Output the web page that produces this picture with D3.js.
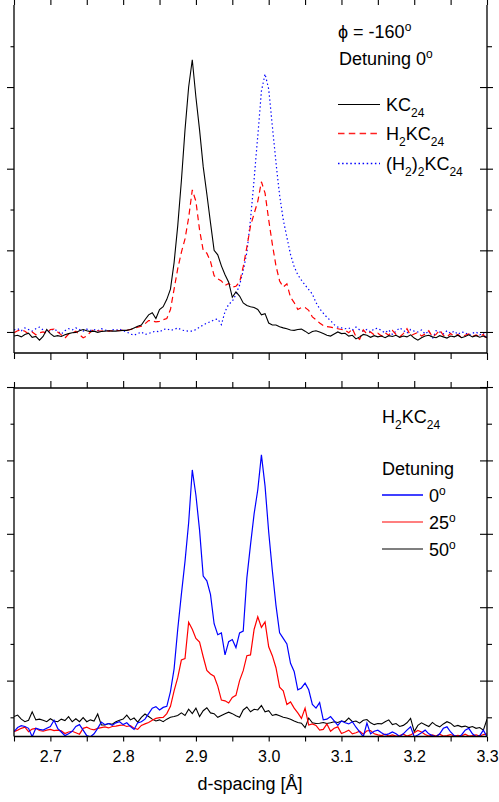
<!DOCTYPE html>
<html>
<head>
<meta charset="utf-8">
<script src="https://cdn.jsdelivr.net/npm/d3@7"></script>
<style>
  body { margin: 0; background: #fff; }
  svg { display: block; }
  text { font-family: "Liberation Sans", Arial, sans-serif; fill: #000; }
  .tick line { stroke: #000; stroke-width: 1.1; }
</style>
</head>
<body>
<svg id="chart" width="499" height="802"></svg>
<script>
// -------------- DATA ----------------- //

// d-spacing grid [Å]
const dSpacing = [
  2.650, 2.655, 2.660, 2.665, 2.670, 2.675, 2.680, 2.685, 2.690, 2.695,
  2.700, 2.705, 2.710, 2.715, 2.720, 2.725, 2.730, 2.735, 2.740, 2.745,
  2.750, 2.755, 2.760, 2.765, 2.770, 2.775, 2.780, 2.785, 2.790, 2.795,
  2.800, 2.805, 2.810, 2.815, 2.820, 2.825, 2.830, 2.835, 2.840, 2.845,
  2.850, 2.855, 2.860, 2.865, 2.870, 2.875, 2.880, 2.885, 2.890, 2.895,
  2.900, 2.905, 2.910, 2.915, 2.920, 2.925, 2.930, 2.935, 2.940, 2.945,
  2.950, 2.955, 2.960, 2.965, 2.970, 2.975, 2.980, 2.985, 2.990, 2.995,
  3.000, 3.005, 3.010, 3.015, 3.020, 3.025, 3.030, 3.035, 3.040, 3.045,
  3.050, 3.055, 3.060, 3.065, 3.070, 3.075, 3.080, 3.085, 3.090, 3.095,
  3.100, 3.105, 3.110, 3.115, 3.120, 3.125, 3.130, 3.135, 3.140, 3.145,
  3.150, 3.155, 3.160, 3.165, 3.170, 3.175, 3.180, 3.185, 3.190, 3.195,
  3.200, 3.205, 3.210, 3.215, 3.220, 3.225, 3.230, 3.235, 3.240, 3.245,
  3.250, 3.255, 3.260, 3.265, 3.270, 3.275, 3.280, 3.285, 3.290, 3.295,
  3.300
];

// top panel, phi = -160, detuning 0 (arb. units)
const kc24 = [
  -0.10, -0.08, -0.12, -0.06, -0.03, -0.13, -0.11, -0.20, -0.11, 0.06,
  -0.04, -0.11, -0.09, -0.11, -0.07, -0.04, -0.02, -0.01, 0.03, 0.06,
  0.03, 0.01, 0.02, -0.01, 0.01, 0.02, 0.03, 0.02, 0.02, 0.03,
  0.04, 0.04, 0.06, 0.10, 0.14, 0.17, 0.30, 0.42, 0.47, 0.33,
  0.55, 0.62, 0.80, 1.05, 1.70, 2.60, 3.70, 4.95, 6.00, 6.67,
  5.75, 4.95, 4.05, 3.38, 2.68, 2.00, 1.89, 1.62, 1.40, 1.22,
  0.85, 0.98, 0.88, 0.71, 0.65, 0.62, 0.60, 0.55, 0.42, 0.45,
  0.22, 0.17, 0.17, 0.13, 0.10, 0.08, 0.05, 0.04, 0.06, 0.07,
  0.02, -0.04, 0.01, 0.03, 0.00, -0.04, -0.08, -0.10, -0.05, 0.00,
  -0.04, -0.03, -0.10, -0.08, -0.17, -0.12, -0.06, -0.08, -0.13, -0.09,
  -0.12, -0.10, -0.14, -0.09, -0.11, -0.08, -0.13, -0.10, -0.12, -0.07,
  -0.15, -0.20, -0.14, -0.10, -0.08, -0.12, -0.14, -0.09, -0.12, -0.15,
  -0.10, -0.12, -0.08, -0.14, -0.11, -0.07, -0.12, -0.09, -0.13, -0.10,
  -0.14
];
const h2kc24 = [
  -0.02, 0.03, 0.05, 0.02, -0.05, 0.00, -0.07, -0.02, 0.00, -0.03,
  0.06, 0.07, 0.00, -0.07, -0.15, -0.05, -0.03, 0.02, -0.07, -0.14,
  -0.10, 0.00, 0.06, 0.03, 0.02, 0.04, 0.02, 0.03, 0.04, 0.03,
  0.05, 0.04, 0.06, 0.08, 0.12, 0.14, 0.20, 0.28, 0.27, 0.25,
  0.26, 0.30, 0.33, 0.55, 1.05, 1.55, 1.95, 2.28, 2.80, 3.48,
  3.20, 2.50, 2.00, 1.93, 1.73, 1.38, 1.30, 1.25, 1.14, 1.19,
  1.10, 1.12, 1.22, 1.60, 2.08, 2.60, 2.90, 3.20, 3.68, 3.40,
  2.75, 2.15, 1.62, 1.25, 1.10, 1.18, 0.85, 0.72, 0.55, 0.60,
  0.60, 0.53, 0.37, 0.30, 0.22, 0.16, 0.13, 0.12, 0.10, 0.08,
  0.06, 0.05, -0.02, 0.08, -0.12, -0.18, 0.05, -0.05, 0.00, -0.07,
  -0.03, -0.10, -0.02, -0.08, 0.04, -0.06, -0.12, -0.04, 0.08, -0.09,
  -0.05, -0.01, -0.10, -0.05, 0.03, -0.12, -0.06, 0.05, -0.08, -0.12,
  -0.04, -0.10, -0.06, -0.14, -0.08, -0.05, -0.11, -0.07, -0.12, -0.06,
  -0.20
];
const h22kc24 = [
  0.05, 0.08, 0.03, 0.10, 0.06, 0.02, 0.08, 0.12, 0.05, -0.02,
  0.04, 0.07, 0.02, -0.05, 0.03, 0.08, 0.05, 0.10, 0.06, 0.02,
  0.07, 0.04, 0.06, 0.03, 0.08, 0.05, 0.02, 0.06, 0.04, 0.07,
  0.03, 0.00, -0.05, -0.08, -0.04, 0.00, -0.06, -0.04, 0.00, 0.02,
  0.00, 0.06, 0.08, 0.04, 0.06, 0.10, 0.05, 0.03, 0.02, 0.02,
  0.06, 0.12, 0.17, 0.22, 0.25, 0.30, 0.32, 0.18, 0.50, 0.68,
  0.75, 0.92, 1.15, 1.50, 1.95, 2.75, 3.75, 4.80, 5.90, 6.32,
  5.95, 5.05, 4.15, 3.35, 2.75, 2.32, 1.90, 1.60, 1.40, 1.27,
  1.15, 1.04, 0.93, 0.72, 0.57, 0.46, 0.36, 0.28, 0.18, 0.12,
  0.10, 0.08, 0.10, 0.05, 0.12, 0.05, 0.02, 0.06, 0.00, 0.08,
  0.09, 0.03, -0.02, 0.05, -0.06, 0.02, 0.10, 0.04, -0.03, 0.06,
  0.02, 0.00, 0.05, -0.05, 0.02, -0.17, 0.03, 0.00, -0.05, 0.03,
  -0.03, 0.02, -0.06, 0.00, -0.02, -0.08, -0.03, 0.00, -0.07, -0.02,
  -0.15
];

// bottom panel, H2KC24 at three detunings (arb. units)
const det0 = [
  -0.39, -0.28, -0.23, -0.25, -0.30, -0.53, -0.30, -0.33, -0.35, -0.30,
  -0.25, -0.08, -0.30, -0.40, -0.50, -0.45, -0.38, -0.25, -0.20, -0.35,
  -0.50, -0.53, -0.45, -0.30, -0.13, -0.20, -0.17, -0.22, -0.15, -0.12,
  -0.20, -0.15, -0.25, -0.33, -0.15, -0.12, -0.05, 0.10, 0.25, 0.29,
  0.20, 0.27, 0.30, 0.70, 1.32, 2.40, 3.35, 4.25, 5.30, 6.74,
  6.05, 5.10, 3.85, 3.72, 3.35, 2.55, 2.25, 2.30, 1.70, 2.06,
  2.12, 1.90, 2.30, 2.35, 3.80, 4.70, 5.55, 6.20, 7.15, 6.30,
  5.05, 4.00, 3.05, 2.30, 2.15, 2.00, 1.47, 1.25, 0.75, 0.80,
  0.93, 0.75, 0.35, 0.25, 0.40, -0.07, -0.05, 0.02, -0.10, -0.22,
  -0.10, -0.15, -0.18, -0.12, -0.27, -0.40, -0.53, -0.16, -0.45, -0.38,
  -0.35, -0.42, -0.48, -0.45, -0.40, -0.45, -0.52, -0.45, -0.35, -0.26,
  -0.53, -0.48, -0.42, -0.35, -0.45, -0.50, -0.53, -0.45, -0.30, -0.26,
  -0.40, -0.50, -0.53, -0.48, -0.35, -0.30, -0.45, -0.53, -0.50, -0.35,
  -0.53
];
const det25 = [
  -0.39, -0.35, -0.30, -0.27, -0.39, -0.32, -0.30, -0.36, -0.38, -0.35,
  -0.33, -0.36, -0.35, -0.37, -0.44, -0.40, -0.38, -0.42, -0.46, -0.30,
  -0.27, -0.32, -0.34, -0.30, -0.28, -0.26, -0.29, -0.25, -0.24, -0.22,
  -0.21, -0.25, -0.23, -0.30, -0.33, -0.22, -0.18, -0.14, -0.08, -0.03,
  -0.01, 0.00, 0.10, 0.30, 0.72, 1.08, 1.56, 1.60, 2.59, 2.40,
  2.15, 2.05, 1.65, 1.28, 1.18, 1.12, 0.85, 0.47, 0.45, 0.39,
  0.54, 0.60, 1.00, 1.27, 1.68, 1.70, 2.40, 2.74, 2.45, 2.60,
  1.92, 1.68, 1.35, 0.82, 0.72, 0.35, 0.42, 0.25, 0.12, -0.03,
  0.25, -0.21, -0.18, -0.22, -0.35, -0.33, -0.18, -0.38, -0.30, -0.26,
  -0.44, -0.40, -0.35, -0.45, -0.42, -0.38, -0.46, -0.37, -0.36, -0.45,
  -0.48, -0.50, -0.46, -0.51, -0.48, -0.51, -0.50, -0.46, -0.51, -0.48,
  -0.42, -0.36, -0.40, -0.47, -0.51, -0.48, -0.51, -0.46, -0.51, -0.50,
  -0.47, -0.51, -0.49, -0.51, -0.46, -0.51, -0.50, -0.48, -0.51, -0.47,
  -0.45
];
const det50 = [
  0.02, 0.06, -0.05, -0.12, -0.08, 0.15, -0.07, -0.05, -0.08, -0.12,
  -0.04, -0.10, -0.12, -0.05, -0.09, 0.02, -0.12, -0.04, -0.12, -0.01,
  -0.12, -0.07, -0.10, 0.09, -0.21, -0.21, -0.17, -0.19, -0.12, -0.08,
  -0.05, 0.06, -0.07, -0.02, -0.13, 0.00, 0.09, 0.02, -0.05, -0.10,
  -0.07, -0.12, -0.05, 0.00, 0.02, 0.05, 0.12, 0.05, 0.22, 0.10,
  0.25, 0.02, 0.18, 0.26, 0.12, 0.10, 0.00, 0.05, 0.10, 0.14,
  0.10, 0.04, 0.00, 0.20, 0.28, 0.15, 0.22, 0.20, 0.32, 0.15,
  0.18, 0.05, 0.08, 0.04, 0.00, -0.02, -0.05, -0.10, -0.14, -0.16,
  -0.28, -0.02, -0.15, -0.17, -0.16, -0.14, -0.17, -0.15, -0.12, -0.14,
  -0.10, -0.12, -0.02, -0.12, -0.10, -0.16, -0.08, -0.06, -0.15, -0.20,
  -0.17, -0.18, -0.12, -0.07, -0.20, -0.17, -0.25, -0.22, -0.15, -0.03,
  -0.39, -0.22, -0.15, -0.20, -0.25, -0.14, -0.22, -0.26, -0.18, -0.12,
  -0.16, -0.25, -0.22, -0.26, -0.24, -0.28, -0.25, -0.30, -0.28, -0.35,
  -0.05
];

// ticks
const xMajorTicks = [2.7, 2.8, 2.9, 3.0, 3.1, 3.2, 3.3];
const xMinorTicks = [2.65, 2.75, 2.85, 2.95, 3.05, 3.15, 3.25];
const xTickLabels = ["2.7", "2.8", "2.9", "3.0", "3.1", "3.2", "3.3"];
const topMajorY = [0, 2, 4, 6];
const topMinorY = [1, 3, 5, 7];
const botMajorY = [1, 3, 5, 7, 9];
const botMinorY = [0, 2, 4, 6, 8];

// -------------- SETUP ----------------- //

const svg = d3.select("#chart");
const LEFT = 14, RIGHT = 487;
const TOP1 = 5, BOT1 = 353;
const TOP2 = 388, BOT2 = 736.5;
const FONT = 18, SMALL = 12;

const x = d3.scaleLinear().domain([2.65, 3.3]).range([LEFT, RIGHT]);
const yTop = d3.scaleLinear().domain([-0.515, 8.01]).range([BOT1, TOP1]);
const yBot = d3.scaleLinear().domain([-0.523, 8.973]).range([BOT2, TOP2]);

function tickGroup(axis, tx, ty) {
    svg.append("g")
        .attr("transform", `translate(${tx},${ty})`)
        .call(axis)
        .call(g => g.select(".domain").remove());
}

function blankTicks(axisFn, scale, values, size) {
    return axisFn(scale).tickValues(values).tickSize(size).tickFormat("");
}

function drawYTicks(scale, major, minor) {
    tickGroup(blankTicks(d3.axisLeft, scale, major, 7), LEFT, 0);
    tickGroup(blankTicks(d3.axisLeft, scale, minor, 3.5), LEFT, 0);
    tickGroup(blankTicks(d3.axisRight, scale, major, 6), RIGHT, 0);
    tickGroup(blankTicks(d3.axisLeft, scale, major, 7), RIGHT, 0);
    tickGroup(blankTicks(d3.axisRight, scale, minor, 5), RIGHT, 0);
}

function frameLine(x1, y1, x2, y2) {
    svg.append("line")
        .attr("x1", x1).attr("y1", y1).attr("x2", x2).attr("y2", y2)
        .attr("stroke", "#000").attr("stroke-width", 1.3);
}

function clip(id, y0, y1) {
    svg.append("clipPath").attr("id", id)
        .append("rect")
        .attr("x", LEFT).attr("y", y0)
        .attr("width", RIGHT - LEFT).attr("height", y1 - y0);
}

function drawSeries(values, yScale, clipId, color, dash, width) {
    const line = d3.line()
        .x((d, i) => x(dSpacing[i]))
        .y(d => yScale(d));
    svg.append("path")
        .datum(values)
        .attr("clip-path", `url(#${clipId})`)
        .attr("fill", "none")
        .attr("stroke", color)
        .attr("stroke-width", width)
        .attr("stroke-dasharray", dash)
        .attr("d", line);
}

// parts: [text, "n" | "sub" | "sup"]
function richText(tx, ty, parts) {
    const t = svg.append("text").attr("x", tx).attr("y", ty).attr("font-size", FONT);
    let shift = 0;
    parts.forEach(([s, kind]) => {
        const target = kind === "sub" ? 6 : kind === "sup" ? -7 : 0;
        t.append("tspan")
            .attr("dy", target - shift)
            .attr("font-size", kind === "n" ? FONT : SMALL)
            .text(s);
        shift = target;
    });
}

function legendLine(x1, x2, y, color, dash, width) {
    const l = svg.append("line")
        .attr("x1", x1).attr("x2", x2).attr("y1", y).attr("y2", y)
        .attr("fill", "none")
        .style("stroke", color)
        .attr("stroke-width", width);
    if (dash) l.attr("stroke-dasharray", dash);
}

// -------------- TOP PANEL ----------------- //

clip("clipTop", TOP1, BOT1);
drawSeries(h22kc24, yTop, "clipTop", "#0000ff", "1.4,2.6", 1.2);
drawSeries(h2kc24, yTop, "clipTop", "#ff0000", "6,4", 1.2);
drawSeries(kc24, yTop, "clipTop", "#000000", null, 1.1);

frameLine(LEFT, TOP1, LEFT, BOT1);
frameLine(RIGHT, TOP1, RIGHT, BOT1);
frameLine(LEFT, BOT1, RIGHT, BOT1);
drawYTicks(yTop, topMajorY, topMinorY);
tickGroup(blankTicks(d3.axisBottom, x, xMajorTicks, 7), 0, BOT1);
tickGroup(blankTicks(d3.axisBottom, x, xMinorTicks, 6), 0, BOT1);
tickGroup(blankTicks(d3.axisTop, x, xMajorTicks, 5), 0, TOP1);
tickGroup(blankTicks(d3.axisTop, x, xMinorTicks, 5), 0, TOP1);

richText(338, 38, [["\u03D5 = -160", "n"], ["o", "sup"]]);
richText(339, 65, [["Detuning 0", "n"], ["o", "sup"]]);
legendLine(338, 380, 104.5, "#000000", null, 1.1);
richText(386, 111, [["KC", "n"], ["24", "sub"]]);
legendLine(338, 380, 133.5, "#ff2020", "6.5,4.3", 1.6);
richText(386, 140, [["H", "n"], ["2", "sub"], ["KC", "n"], ["24", "sub"]]);
legendLine(338, 380, 163.5, "#0000ff", "1.5,2.6", 1.6);
richText(386, 170, [["(H", "n"], ["2", "sub"], [")", "n"], ["2", "sub"], ["KC", "n"], ["24", "sub"]]);

// -------------- BOTTOM PANEL ----------------- //

clip("clipBot", TOP2, BOT2);
drawSeries(det50, yBot, "clipBot", "#000000", null, 1.1);
drawSeries(det25, yBot, "clipBot", "#ff0000", null, 1.2);
drawSeries(det0, yBot, "clipBot", "#0000ff", null, 1.2);

frameLine(LEFT, TOP2, RIGHT, TOP2);
frameLine(LEFT, BOT2, RIGHT, BOT2);
frameLine(LEFT, TOP2, LEFT, BOT2);
frameLine(RIGHT, TOP2, RIGHT, BOT2);
drawYTicks(yBot, botMajorY, botMinorY);
tickGroup(blankTicks(d3.axisTop, x, xMajorTicks, 7), 0, TOP2);
tickGroup(blankTicks(d3.axisTop, x, xMinorTicks, 6), 0, TOP2);
tickGroup(blankTicks(d3.axisBottom, x, xMinorTicks, 5), 0, BOT2);

svg.append("g")
    .attr("transform", `translate(0,${BOT2})`)
    .call(d3.axisBottom(x).tickValues(xMajorTicks).tickSize(5).tickPadding(9)
        .tickFormat((d, i) => xTickLabels[i]))
    .call(g => g.select(".domain").remove())
    .call(g => g.selectAll("text")
        .attr("font-size", 16)
        .attr("font-family", "'Liberation Sans', Arial, sans-serif"));

svg.append("text")
    .attr("x", 250).attr("y", 790)
    .attr("text-anchor", "middle")
    .attr("font-size", 18)
    .text("d-spacing [\u00C5]");

richText(382, 423, [["H", "n"], ["2", "sub"], ["KC", "n"], ["24", "sub"]]);
svg.append("text").attr("x", 382).attr("y", 475).attr("font-size", FONT).text("Detuning");
legendLine(382, 423, 495, "#0000ff", null, 1.6);
richText(429, 502, [["0", "n"], ["o", "sup"]]);
legendLine(382, 423, 522, "#ff0000", null, 1.2);
richText(429, 529, [["25", "n"], ["o", "sup"]]);
legendLine(382, 423, 549, "#000000", null, 1.1);
richText(429, 556, [["50", "n"], ["o", "sup"]]);
</script>
</body>
</html>
